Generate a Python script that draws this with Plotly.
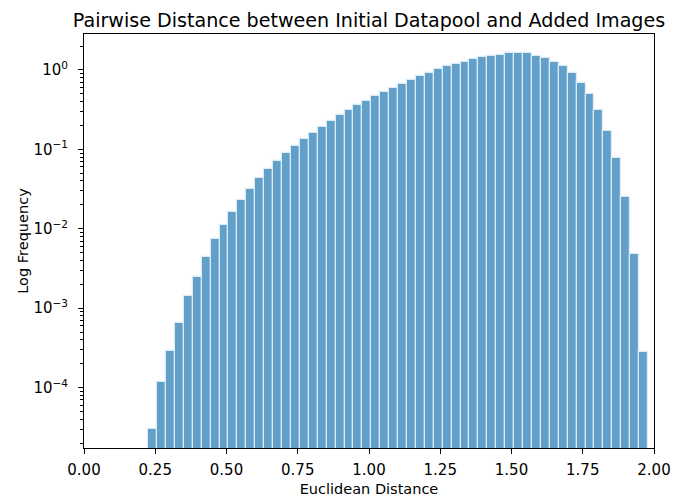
import plotly.graph_objects as go

# Histogram bin centers (Euclidean distance) and density values (log scale)
bin_centers = [
    0.2407, 0.2720, 0.3033, 0.3346, 0.3660, 0.3973, 0.4286, 0.4599, 0.4913, 0.5226,
    0.5539, 0.5852, 0.6165, 0.6479, 0.6792, 0.7105, 0.7418, 0.7731, 0.8045, 0.8358,
    0.8671, 0.8984, 0.9297, 0.9611, 0.9924, 1.0237, 1.0550, 1.0864, 1.1177, 1.1490,
    1.1803, 1.2116, 1.2429, 1.2743, 1.3056, 1.3369, 1.3682, 1.3996, 1.4309, 1.4622,
    1.4935, 1.5248, 1.5562, 1.5875, 1.6188, 1.6501, 1.6815, 1.7128, 1.7441, 1.7754,
    1.8067, 1.8381, 1.8694, 1.9007, 1.9320, 1.9633,
]
frequency = [
    3.0e-5, 1.19e-4, 2.85e-4, 6.45e-4, 1.43e-3, 2.49e-3, 4.45e-3, 7.38e-3, 0.0113, 0.0164,
    0.0231, 0.0320, 0.0432, 0.0561, 0.0721, 0.0893, 0.111, 0.135, 0.162, 0.193,
    0.230, 0.271, 0.316, 0.362, 0.411, 0.466, 0.533, 0.589, 0.667, 0.748,
    0.840, 0.925, 1.02, 1.11, 1.20, 1.27, 1.375, 1.445, 1.50, 1.56,
    1.62, 1.63, 1.62, 1.51, 1.43, 1.27, 1.12, 0.909, 0.692, 0.494,
    0.313, 0.172, 0.0773, 0.0254, 4.77e-3, 2.81e-4,
]
bin_width = 0.03132

x_tick_vals = [0.0, 0.25, 0.5, 0.75, 1.0, 1.25, 1.5, 1.75, 2.0]
x_tick_text = ["0.00", "0.25", "0.50", "0.75", "1.00", "1.25", "1.50", "1.75", "2.00"]
y_tick_vals = [1e-4, 1e-3, 1e-2, 1e-1, 1]
y_tick_text = ["10<sup>−4</sup>", "10<sup>−3</sup>", "10<sup>−2</sup>", "10<sup>−1</sup>", "10<sup>0</sup>"]
y_minor_vals = [m * 10.0 ** e for e in range(-5, 1) for m in range(2, 10)]

fig = go.Figure()
fig.add_trace(go.Bar(
    x=bin_centers,
    y=frequency,
    width=[bin_width] * len(bin_centers),
    marker=dict(color="rgba(31,119,180,0.7)",
                line=dict(color="rgba(220,235,248,1)", width=1.2)),
))

font = "DejaVu Sans, Liberation Sans, sans-serif"
fig.update_layout(
    width=686, height=497,
    margin=dict(l=84, r=32, t=34, b=49),
    plot_bgcolor="white", paper_bgcolor="white",
    font=dict(family=font, size=15, color="black"),
    title=dict(text="Pairwise Distance between Initial Datapool and Added Images",
               xref="paper", x=0.5, xanchor="center", y=0.96, yanchor="middle",
               font=dict(family=font, size=19.1, color="black")),
    showlegend=False,
    bargap=0,
)
fig.update_xaxes(
    range=[0, 2], tickvals=x_tick_vals, ticktext=x_tick_text,
    ticks="outside", ticklen=5, tickcolor="black", ticklabelstandoff=3,
    showline=True, linecolor="black", linewidth=1, mirror=True,
    showgrid=False, zeroline=False, automargin=False,
    title=dict(text="Euclidean Distance", font=dict(family=font, size=14.5, color="black"), standoff=10),
    tickfont=dict(family=font, size=15, color="black"),
)
fig.update_yaxes(
    type="log", range=[-4.761, 0.453],
    tickvals=y_tick_vals, ticktext=y_tick_text,
    ticks="outside", ticklen=5, tickcolor="black", ticklabelstandoff=7,
    minor=dict(tickvals=y_minor_vals, ticks="outside", ticklen=3, tickcolor="black", showgrid=False),
    showline=True, linecolor="black", linewidth=1, mirror=True,
    showgrid=False, zeroline=False, automargin=False,
    title=dict(text="Log Frequency", font=dict(family=font, size=14.5, color="black"), standoff=1),
    tickfont=dict(family=font, size=15, color="black"),
)

fig.write_html("out.html", config={"displayModeBar": False},
               post_script="document.body.style.margin='0px';")
